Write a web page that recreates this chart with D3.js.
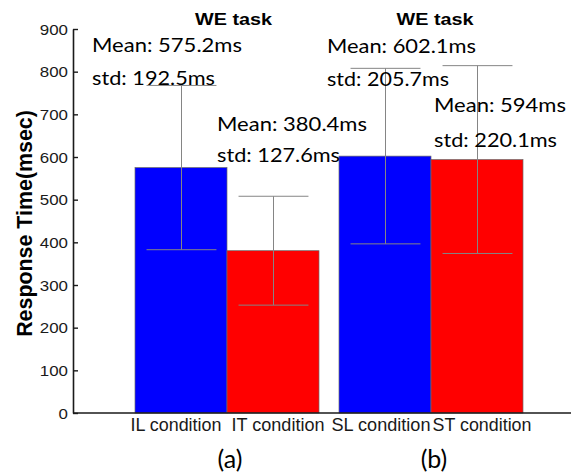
<!DOCTYPE html>
<html>
<head>
<meta charset="utf-8">
<script src="https://cdn.jsdelivr.net/npm/d3@7"></script>
<style>
  html, body { margin: 0; padding: 0; background: #fff; }
  svg { display: block; }
</style>
</head>
<body>
<svg id="chart" width="571" height="475"></svg>
<script>
// ---- data ----
const categories = ["IL condition", "IT condition", "SL condition", "ST condition"];
const groups = ["(a)", "(b)"];
const groupOf = ["(a)", "(a)", "(b)", "(b)"];
const slotOf = [0, 1, 0, 1];
const means = [575.2, 380.4, 602.1, 594];
const stds = [192.5, 127.6, 205.7, 220.1];
const barColors = ["#0000ff", "#ff0000", "#0000ff", "#ff0000"];
const yTicks = [0, 100, 200, 300, 400, 500, 600, 700, 800, 900];
const titles = ["WE task", "WE task"];
const yLabel = "Response Time(msec)";

// ---- layout ----
const W = 571, H = 475;
const axisX = 73, axisY0 = 413, axisY1 = 29;
// annotation anchors: x, baselines of the two lines, fitted widths
const noteLayout = [
  { x: 92,  yMean: 52,  yStd: 85,  wMean: 150, wStd: 123 },
  { x: 217, yMean: 131, yStd: 162, wMean: 150, wStd: 123 },
  { x: 327, yMean: 53,  yStd: 86,  wMean: 149, wStd: 122 },
  { x: 434, yMean: 112, yStd: 147, wMean: 132, wStd: 123 }
];
const titleCenters = [233.5, 435];
// category label placement: shift from bar centre and fitted width
const xLabelShift = [-5, 5, -4, 5];
const xLabelWidths = [91, 93, 99, 99];

const svg = d3.select("#chart");

const y = d3.scaleLinear().domain([0, 900]).range([axisY0, axisY1]);

const xGroup = d3.scaleBand()
  .domain(groups)
  .range([135, 523])
  .paddingInner(20 / 204)
  .paddingOuter(0);

const xSlot = d3.scaleBand()
  .domain([0, 1])
  .range([0, xGroup.bandwidth()]);

const barX = i => xGroup(groupOf[i]) + xSlot(slotOf[i]);
const barC = i => barX(i) + xSlot.bandwidth() / 2;

const idx = d3.range(categories.length);

// bars
svg.append("g").selectAll("rect")
  .data(idx)
  .join("rect")
  .attr("x", i => barX(i))
  .attr("y", i => y(means[i]))
  .attr("width", xSlot.bandwidth())
  .attr("height", i => y(0) - y(means[i]))
  .attr("fill", i => barColors[i])
  .attr("stroke", "#6a6a6a")
  .attr("stroke-width", 0.7);

// error bars (mean ± std)
const capHalf = xSlot.bandwidth() * 0.38;
const eb = svg.append("g")
  .attr("stroke", "#858585")
  .attr("stroke-width", 1)
  .attr("fill", "none");
idx.forEach(i => {
  const cx = Math.round(barC(i)) + 0.5;
  const top = y(means[i] + stds[i]);
  const bot = y(means[i] - stds[i]);
  eb.append("line").attr("x1", cx).attr("x2", cx).attr("y1", top).attr("y2", bot);
  eb.append("line").attr("x1", cx - capHalf).attr("x2", cx + capHalf).attr("y1", top).attr("y2", top);
  eb.append("line").attr("x1", cx - capHalf).attr("x2", cx + capHalf).attr("y1", bot).attr("y2", bot);
});

// x axis baseline
svg.append("line")
  .attr("x1", axisX).attr("x2", W)
  .attr("y1", axisY0).attr("y2", axisY0)
  .attr("stroke", "#1a1a1a").attr("stroke-width", 1.6);

// y axis, ticks pointing inward
const yAxis = d3.axisLeft(y)
  .tickValues(yTicks)
  .tickSizeInner(-5)
  .tickSizeOuter(0)
  .tickPadding(5)
  .tickFormat(d3.format("d"));

const gy = svg.append("g")
  .attr("transform", `translate(${axisX},0)`)
  .call(yAxis);
gy.select(".domain").attr("stroke", "#1a1a1a").attr("stroke-width", 1.6);
gy.selectAll(".tick line").attr("stroke", "#1a1a1a").attr("stroke-width", 1.4);
gy.selectAll(".tick text")
  .attr("font-family", "'Liberation Sans', Arial, sans-serif")
  .attr("font-size", 15.5)
  .attr("fill", "#1a1a1a")
  .attr("dy", "0.34em")
  .attr("textLength", d => String(d).length * 9.4)
  .attr("lengthAdjust", "spacingAndGlyphs");

// y axis title
svg.append("text")
  .attr("transform", `translate(32,${(110 + 337) / 2}) rotate(-90)`)
  .attr("text-anchor", "middle")
  .attr("font-family", "'Liberation Sans', Arial, sans-serif")
  .attr("font-weight", "bold")
  .attr("font-size", 21.4)
  .attr("fill", "#000")
  .text(yLabel);

// panel titles
svg.append("g").selectAll("text")
  .data(titles)
  .join("text")
  .attr("x", (d, i) => titleCenters[i] - 77 / 2)
  .attr("y", 25)
  .attr("font-family", "'Liberation Sans', Arial, sans-serif")
  .attr("font-weight", "bold")
  .attr("font-size", 17)
  .attr("textLength", 77)
  .attr("lengthAdjust", "spacingAndGlyphs")
  .text(d => d);

// category labels
svg.append("g").selectAll("text")
  .data(idx)
  .join("text")
  .attr("x", i => barC(i) + xLabelShift[i] - xLabelWidths[i] / 2)
  .attr("y", 431)
  .attr("font-family", "'Liberation Sans', Arial, sans-serif")
  .attr("font-size", 18)
  .attr("fill", "#1a1a1a")
  .attr("textLength", i => xLabelWidths[i])
  .attr("lengthAdjust", "spacingAndGlyphs")
  .text(i => categories[i]);

// panel letters
svg.append("g").selectAll("text")
  .data(groups)
  .join("text")
  .attr("x", g => xGroup(g) + xGroup.bandwidth() / 2 + 3)
  .attr("y", 468)
  .attr("text-anchor", "middle")
  .attr("font-family", "Lato, 'Open Sans', sans-serif")
  .attr("font-size", 25)
  .attr("fill", "#000")
  .text(g => g);

// mean / std annotations
const notes = svg.append("g")
  .attr("font-family", "Lato, 'Open Sans', sans-serif")
  .attr("font-size", 20)
  .attr("fill", "#000");
idx.forEach(i => {
  const L = noteLayout[i];
  notes.append("text")
    .attr("x", L.x).attr("y", L.yMean)
    .attr("textLength", L.wMean).attr("lengthAdjust", "spacingAndGlyphs")
    .text(`Mean: ${means[i]}ms`);
  notes.append("text")
    .attr("x", L.x).attr("y", L.yStd)
    .attr("textLength", L.wStd).attr("lengthAdjust", "spacingAndGlyphs")
    .text(`std: ${stds[i]}ms`);
});
</script>
</body>
</html>
